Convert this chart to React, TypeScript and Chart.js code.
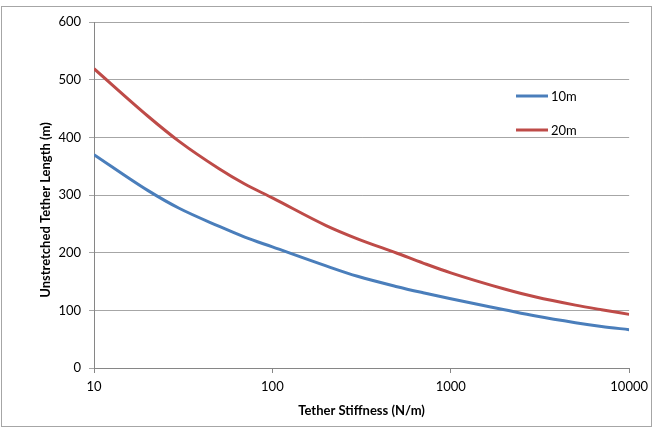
import React, { useEffect, useRef } from "react";
import { Chart, registerables } from "chart.js";

Chart.register(...registerables);

const stiffness = [10, 20, 30, 50, 70, 100, 200, 300, 500, 700, 1000, 2000, 3000, 5000, 7000, 10000];
const length10m = [370, 308, 277, 246, 227, 210, 177, 159, 141, 130.5, 120, 101, 90, 78.5, 72, 66.5];
const length20m = [519, 437, 393, 346, 319, 295, 247, 224, 199, 182, 165, 137, 123, 109, 101, 93];
const xTicks = [10, 100, 1000, 10000];
const seriesNames = ["10m", "20m"];
const seriesColors = ["#4A7EBB", "#BE4B48"];
const xTitle = "Tether Stiffness (N/m)";
const yTitle = "Unstretched Tether Length (m)";

const FONT = "Lato, 'Liberation Sans', sans-serif";

export default function App() {
  const ref = useRef<HTMLCanvasElement | null>(null);

  useEffect(() => {
    if (!ref.current) return;

    const decor = {
      id: "decor",
      beforeDraw(chart: any) {
        const ctx = chart.ctx;
        ctx.save();
        ctx.fillStyle = "#ffffff";
        ctx.fillRect(0, 0, chart.width, chart.height);
        ctx.strokeStyle = "#a6a6a6";
        ctx.lineWidth = 1;
        ctx.strokeRect(1.5, 6.5, 650, 420);
        ctx.restore();
      },
      afterDraw(chart: any) {
        const ctx = chart.ctx;
        const area = chart.chartArea;
        ctx.save();
        ctx.fillStyle = "#000";
        ctx.font = `bold 13px ${FONT}`;
        ctx.textAlign = "center";
        ctx.textBaseline = "middle";
        ctx.fillText(xTitle, (area.left + area.right) / 2, 411);
        ctx.translate(46, 210);
        ctx.rotate(-Math.PI / 2);
        ctx.fillText(yTitle, 0, 0);
        ctx.restore();

        // legend
        ctx.save();
        const ys = [96, 130];
        ctx.font = `13px ${FONT}`;
        ctx.textAlign = "left";
        ctx.textBaseline = "middle";
        seriesNames.forEach((name, i) => {
          ctx.strokeStyle = seriesColors[i];
          ctx.lineWidth = 3;
          ctx.beginPath();
          ctx.moveTo(516, ys[i]);
          ctx.lineTo(548, ys[i]);
          ctx.stroke();
          ctx.fillStyle = "#000";
          ctx.fillText(name, 551, ys[i] + 1);
        });
        ctx.restore();
      },
    };

    const chart = new Chart(ref.current, {
      type: "line",
      data: {
        datasets: [
          {
            label: seriesNames[0],
            data: stiffness.map((x, i) => ({ x, y: length10m[i] })),
            borderColor: seriesColors[0],
            backgroundColor: seriesColors[0],
            borderWidth: 3,
            pointRadius: 0,
            cubicInterpolationMode: "monotone",
          },
          {
            label: seriesNames[1],
            data: stiffness.map((x, i) => ({ x, y: length20m[i] })),
            borderColor: seriesColors[1],
            backgroundColor: seriesColors[1],
            borderWidth: 3,
            pointRadius: 0,
            cubicInterpolationMode: "monotone",
          },
        ],
      },
      options: {
        animation: false,
        responsive: false,
        devicePixelRatio: 1,
        layout: { padding: { top: 22, right: 24, left: 0, bottom: 0 } },
        plugins: {
          legend: { display: false },
          tooltip: { enabled: false },
        },
        scales: {
          x: {
            type: "logarithmic",
            min: 10,
            max: 10000,
            afterBuildTicks(scale: any) {
              scale.ticks = xTicks.map((v) => ({ value: v }));
            },
            afterFit(scale: any) {
              scale.height = 60;
            },
            ticks: {
              color: "#000",
              font: { family: FONT, size: 13 },
              padding: 6,
              maxRotation: 0,
              autoSkip: false,
              callback: (v: any) => String(v),
            },
            grid: { drawOnChartArea: false, tickLength: 5, color: "#868686" },
            border: { color: "#868686", width: 1 },
          },
          y: {
            min: 0,
            max: 600,
            afterFit(scale: any) {
              scale.width = 94;
            },
            ticks: {
              stepSize: 100,
              color: "#000",
              font: { family: FONT, size: 13 },
              padding: 8,
            },
            grid: { color: "#a6a6a6", tickLength: 5 },
            border: { color: "#868686", width: 1 },
          },
        },
      },
      plugins: [decor],
    } as any);

    return () => chart.destroy();
  }, []);

  return (
    <div style={{ position: "absolute", left: 0, top: 0, width: 654, height: 428, background: "#fff" }}>
      <canvas ref={ref} width={654} height={428} style={{ display: "block" }} />
    </div>
  );
}
